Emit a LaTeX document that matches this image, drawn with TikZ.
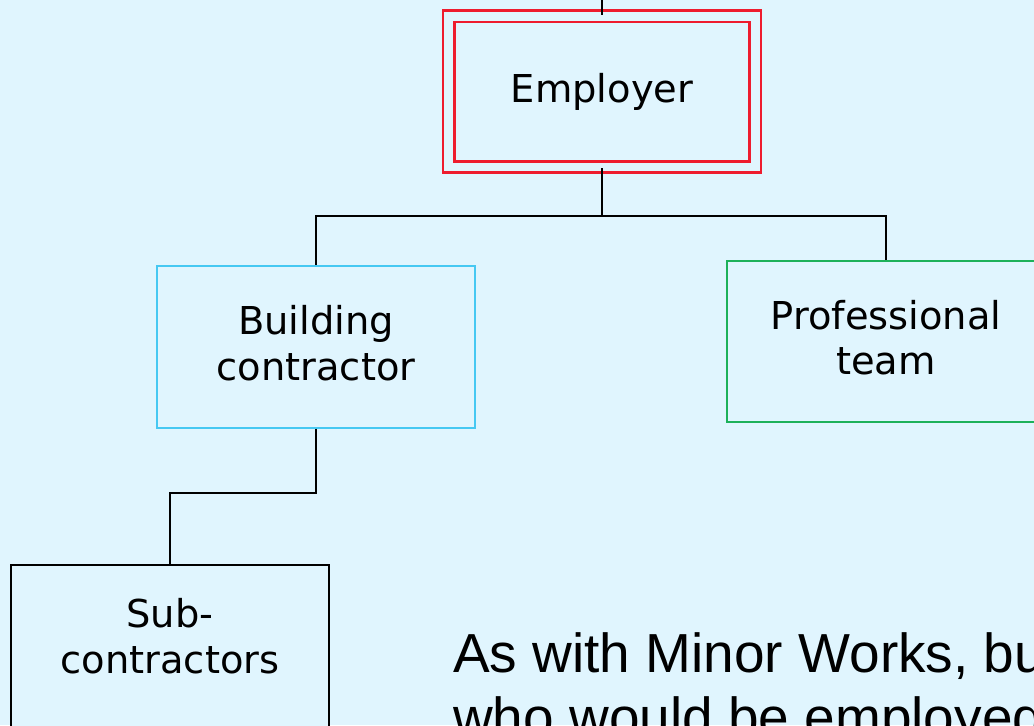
\documentclass[tikz,border=0pt]{standalone}
\usepackage{fontspec}
\setmainfont{Liberation Sans}
\newfontfamily\boxfont{DejaVu Sans}
\usepackage{tikz}
\usetikzlibrary{positioning, calc}

\definecolor{bgblue}{HTML}{E0F5FE}
\definecolor{empred}{HTML}{EE1C2E}
\definecolor{bcblue}{HTML}{46C8F2}
\definecolor{ptgreen}{HTML}{1DB15A}

\begin{document}
\begin{tikzpicture}[
  x=0.75pt, y=-0.75pt,
  box/.style={rectangle, draw, line width=1.6pt, fill=bgblue, minimum width=238.5pt, minimum height=121pt, align=center, inner sep=0pt, font=\boxfont\fontsize{28.8}{34}\selectfont},
  emp/.style={box, draw=empred, line width=2.1pt, double=bgblue, double distance=6.5pt, minimum width=230pt, minimum height=113pt},
  wire/.style={draw=black, line width=1.8pt},
]
\useasboundingbox (0,0) rectangle (1034,725);
\clip (0,0) rectangle (1034,725);
\fill[bgblue] (0,0) rectangle (1034,725);

% === Top: Employer ===
\node[emp] (emp) at (602,91.5) {Employer};
\coordinate (top) at (602,0);

% === Middle row ===
\node[box, draw=bcblue] (bc) at (316,347) {Building\\contractor\\[-28pt]};
\node[box, draw=ptgreen] (pt) at (886,341.5) {Professional\\team\\[-28pt]};

% === Bottom: Sub-contractors ===
\node[box, draw=black] (sub) at (170,646) {Sub-\\contractors\\[-19pt]};

% === Wires ===
\draw[wire] (emp.north) -- (top);
\draw[wire] (emp.south) -- ++(0,48) -| (bc.north);
\draw[wire] (emp.south) -- ++(0,48) -| (pt.north);
\draw[wire] (bc.south) -- ++(0,64) -| (sub.north);

% === Note ===
\node[anchor=base west, inner sep=0pt, align=left, font=\fontsize{41.25}{48}\selectfont] (note) at (453,736)
  {As with Minor Works, but\\who would be employed};
\end{tikzpicture}
\end{document}
